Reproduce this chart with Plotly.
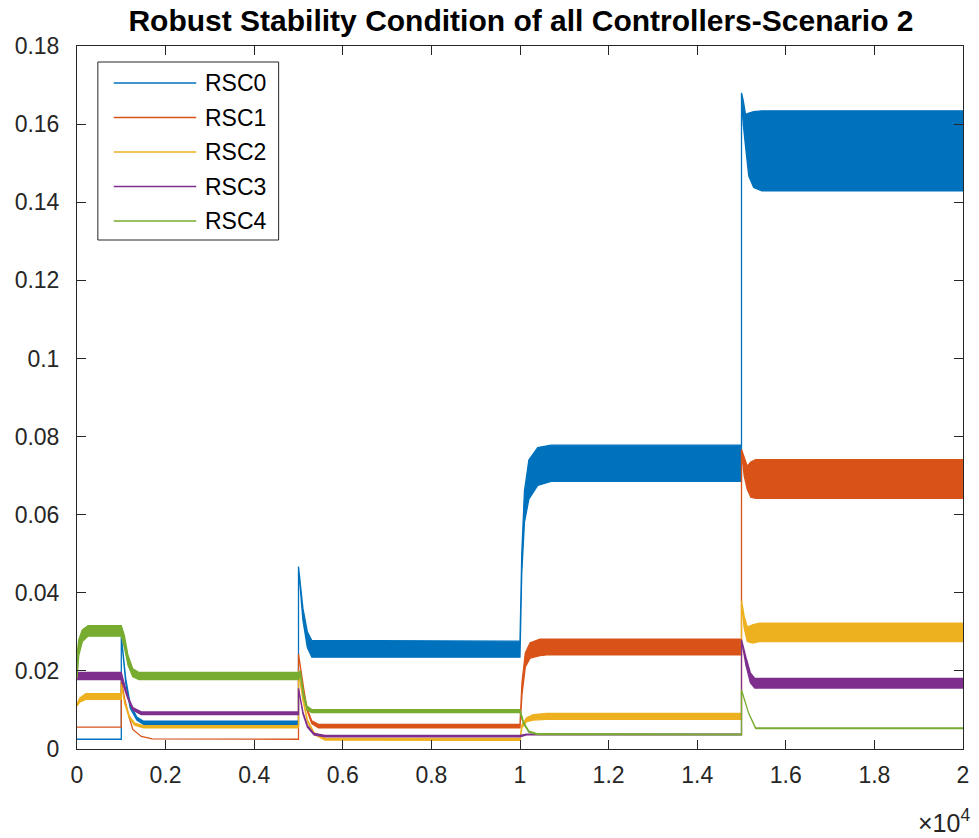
import plotly.graph_objects as go

# ---- data: envelope of each controller's robust stability condition ----
# Each series: time samples, upper envelope, lower envelope (oscillation band)
SERIES = ["RSC0", "RSC1", "RSC2", "RSC3", "RSC4"]
COLORS = ["#0072BD", "#D95319", "#EDB120", "#7E2F8E", "#77AC30"]

RSC0_T = [0, 1000, 1000, 1100, 1200, 1350, 1500, 5000, 5000, 5100, 5200, 5300, 10000,
          10000, 10040, 10100, 10200, 10400, 10700, 15000, 15000, 15040, 15090, 15164,
          15276, 15460, 20000]
RSC0_HI = [0.0025, 0.0025, 0.029, 0.018, 0.0115, 0.0082, 0.0071, 0.0071, 0.0467, 0.036,
           0.030, 0.0278, 0.0276, 0.0276, 0.050, 0.066, 0.074, 0.0772, 0.0778, 0.0778,
           0.168, 0.166, 0.1625, 0.1628, 0.1632, 0.1634, 0.1634]
RSC0_LO = [0.0025, 0.0025, 0.029, 0.017, 0.0105, 0.0074, 0.0063, 0.0063, 0.0467, 0.033,
           0.026, 0.0235, 0.0235, 0.0235, 0.045, 0.058, 0.064, 0.0675, 0.0685, 0.0685,
           0.168, 0.160, 0.1544, 0.1467, 0.1438, 0.1429, 0.1429]

RSC1_T = [0, 1000, 1000, 1080, 1180, 1260, 1450, 1700, 5000, 5000, 5110, 5190, 5300, 5450,
          10000, 10000, 10045, 10120, 10230, 10450, 10600, 15000, 15000, 15060, 15130,
          15210, 15320, 20000]
RSC1_HI = [0.0056, 0.0056, 0.0175, 0.0126, 0.0080, 0.0050, 0.0032, 0.0026, 0.0025, 0.0243,
           0.016, 0.0105, 0.0072, 0.0063, 0.0063, 0.0063, 0.017, 0.0246, 0.0272, 0.0281,
           0.0281, 0.0281, 0.0767, 0.0745, 0.0724, 0.0735, 0.0741, 0.0741]
RSC1_LO = [0.0056, 0.0056, 0.0175, 0.0126, 0.0080, 0.0050, 0.0032, 0.0026, 0.0025, 0.0243,
           0.016, 0.0100, 0.0065, 0.0054, 0.0054, 0.0054, 0.014, 0.021, 0.0233, 0.0239,
           0.0241, 0.0241, 0.0767, 0.0700, 0.0665, 0.0645, 0.0642, 0.0642]

RSC2_T = [0, 60, 200, 1000, 1000, 1080, 1180, 1300, 1500, 5000, 5000, 5100, 5200, 5350,
          5600, 10000, 10000, 10045, 10150, 10300, 10600, 15000, 15000, 15060, 15130,
          15250, 15400, 20000]
RSC2_HI = [0.0115, 0.0130, 0.0142, 0.0142, 0.0165, 0.0120, 0.0085, 0.0066, 0.0060, 0.0060,
           0.0200, 0.0130, 0.0075, 0.0042, 0.0028, 0.0027, 0.0027, 0.0062, 0.0080, 0.0088,
           0.0091, 0.0091, 0.0380, 0.0340, 0.0312, 0.0318, 0.0322, 0.0322]
RSC2_LO = [0.0110, 0.0120, 0.0127, 0.0127, 0.0165, 0.0115, 0.0080, 0.0061, 0.0054, 0.0054,
           0.0200, 0.0125, 0.0070, 0.0037, 0.0023, 0.0022, 0.0022, 0.0055, 0.0070, 0.0074,
           0.0076, 0.0076, 0.0380, 0.0310, 0.0275, 0.0271, 0.0275, 0.0275]

RSC3_T = [0, 1000, 1060, 1150, 1260, 1450, 5000, 5000, 5100, 5200, 5350, 5600, 10000,
          10150, 15000, 15000, 15100, 15200, 15300, 20000]
RSC3_HI = [0.0196, 0.0196, 0.0170, 0.0134, 0.0106, 0.0095, 0.0095, 0.0155, 0.0095, 0.0060,
           0.0040, 0.0035, 0.0035, 0.0038, 0.0038, 0.0280, 0.0235, 0.0195, 0.0181, 0.0181]
RSC3_LO = [0.0178, 0.0178, 0.0160, 0.0128, 0.0100, 0.0088, 0.0088, 0.0155, 0.0090, 0.0056,
           0.0036, 0.0031, 0.0031, 0.0036, 0.0036, 0.0280, 0.0215, 0.0170, 0.0156, 0.0156]

RSC4_T = [0, 40, 120, 250, 1000, 1070, 1150, 1260, 1400, 5000, 5040, 5110, 5190, 5300,
          10000, 10080, 10200, 10400, 15000, 15000, 15160, 15320, 20000]
RSC4_HI = [0.0240, 0.0280, 0.0305, 0.0316, 0.0316, 0.0290, 0.0240, 0.0205, 0.0196, 0.0196,
           0.0200, 0.0145, 0.0110, 0.0101, 0.0101, 0.0069, 0.0046, 0.0039, 0.0038, 0.0151,
           0.0092, 0.0054, 0.0054]
RSC4_LO = [0.0180, 0.0240, 0.0275, 0.0289, 0.0289, 0.0260, 0.0215, 0.0185, 0.0178, 0.0178,
           0.0190, 0.0135, 0.0100, 0.0093, 0.0093, 0.0065, 0.0043, 0.0037, 0.0036, 0.0151,
           0.0092, 0.0052, 0.0052]

ENVELOPES = [
    (RSC0_T, RSC0_HI, RSC0_LO),
    (RSC1_T, RSC1_HI, RSC1_LO),
    (RSC2_T, RSC2_HI, RSC2_LO),
    (RSC3_T, RSC3_HI, RSC3_LO),
    (RSC4_T, RSC4_HI, RSC4_LO),
]

X_TICKS = [0, 2000, 4000, 6000, 8000, 10000, 12000, 14000, 16000, 18000, 20000]
X_TICK_TEXT = ["0", "0.2", "0.4", "0.6", "0.8", "1", "1.2", "1.4", "1.6", "1.8", "2"]
Y_TICKS = [0, 0.02, 0.04, 0.06, 0.08, 0.1, 0.12, 0.14, 0.16, 0.18]
Y_TICK_TEXT = ["0", "0.02", "0.04", "0.06", "0.08", "0.1", "0.12", "0.14", "0.16", "0.18"]

# ---- figure geometry (pixels) ----
W, H = 979, 838
L, R, T, B = 77, 10, 46, 89
PW, PH = W - L - R, H - T - B
FONT = "Liberation Sans, Arial, Helvetica, sans-serif"
AX = "#262626"
TICK_SIZE = 23


def px(xp):
    return (xp - L) / PW


def py(yp):
    return (H - B - yp) / PH


fig = go.Figure()

# oscillation bands drawn as filled envelopes (dense oscillation appears solid)
for name, color, (t, hi, lo) in zip(SERIES, COLORS, ENVELOPES):
    fig.add_trace(go.Scatter(
        x=list(t) + list(t)[::-1],
        y=list(hi) + list(lo)[::-1],
        mode="lines",
        fill="toself",
        fillcolor=color,
        line=dict(color=color, width=1.3),
        name=name,
        showlegend=False,
        hoverinfo="skip",
    ))

axis_common = dict(
    showgrid=False, zeroline=False, showline=True, linecolor=AX, linewidth=1,
    mirror="allticks", ticks="inside", ticklen=9, tickwidth=1, tickcolor=AX,
    tickfont=dict(family=FONT, size=TICK_SIZE, color=AX),
)

fig.update_layout(
    width=W, height=H,
    margin=dict(l=L, r=R, t=T, b=B, pad=0),
    paper_bgcolor="white", plot_bgcolor="white",
    showlegend=False,
    xaxis=dict(range=[0, 20000], tickvals=X_TICKS, ticktext=X_TICK_TEXT,
               ticklabelstandoff=5, **axis_common),
    yaxis=dict(range=[0, 0.18], tickvals=Y_TICKS, ticktext=Y_TICK_TEXT,
               ticklabelstandoff=12, **axis_common),
    title=dict(
        text="<b>Robust Stability Condition of all Controllers-Scenario 2</b>",
        x=px(524), xref="paper", xanchor="center",
        y=1 - 20 / H, yref="container", yanchor="middle",
        font=dict(family=FONT, size=30, color="#000000"),
    ),
)

# exponent label for the x axis
fig.add_annotation(
    text="×10<sup>4</sup>", xref="paper", yref="paper",
    x=px(978), y=py(821), xanchor="right", yanchor="middle",
    showarrow=False, font=dict(family=FONT, size=25, color=AX),
)

# legend box with line samples
LEG_X0, LEG_X1, LEG_Y0, LEG_Y1 = 98, 280, 62, 240
fig.add_shape(type="rect", xref="paper", yref="paper",
              x0=px(LEG_X0), x1=px(LEG_X1), y0=py(LEG_Y1), y1=py(LEG_Y0),
              line=dict(color=AX, width=1), fillcolor="white", layer="above")
for i, (name, color) in enumerate(zip(SERIES, COLORS)):
    yc = 83 + i * 34.5
    fig.add_shape(type="line", xref="paper", yref="paper",
                  x0=px(114), x1=px(197), y0=py(yc), y1=py(yc),
                  line=dict(color=color, width=1.3), layer="above")
    fig.add_annotation(text=name, xref="paper", yref="paper",
                       x=px(204), y=py(yc), xanchor="left", yanchor="middle",
                       showarrow=False, font=dict(family=FONT, size=TICK_SIZE, color="#000000"))

fig.write_html("out.html")
